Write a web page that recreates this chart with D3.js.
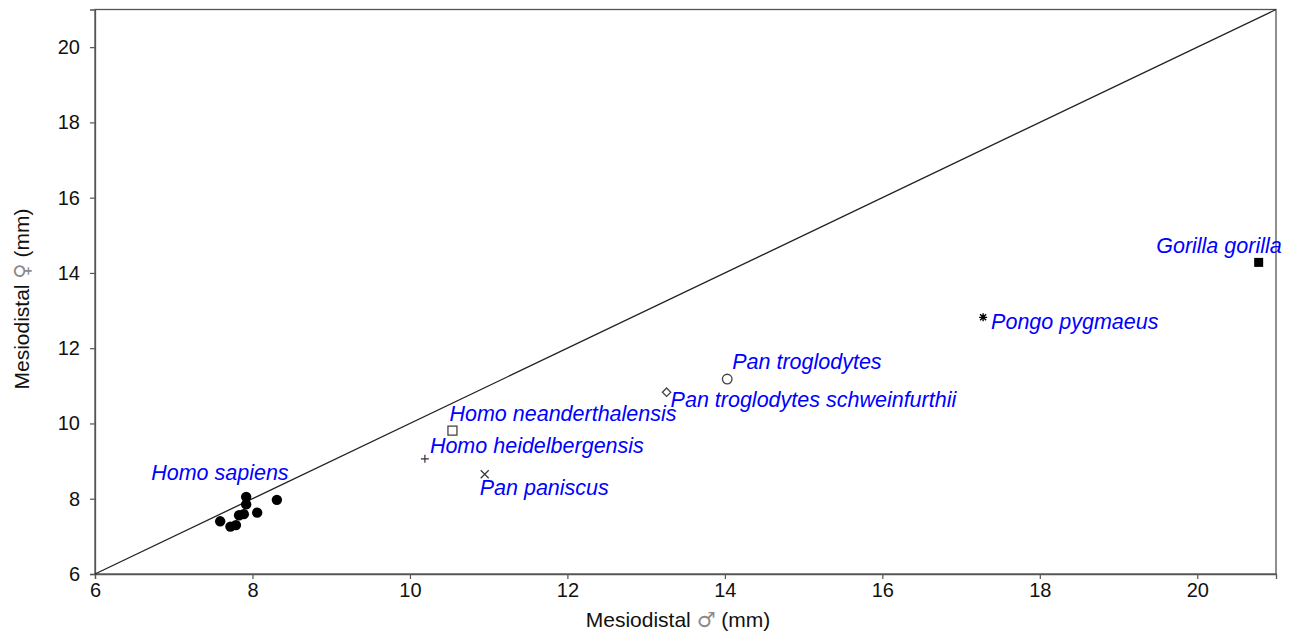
<!DOCTYPE html>
<html>
<head>
<meta charset="utf-8">
<script src="https://cdn.jsdelivr.net/npm/d3@7/dist/d3.min.js"></script>
<style>
  html, body { margin: 0; padding: 0; background: #fff; }
  svg { display: block; font-family: "Liberation Sans", Arial, sans-serif; }
</style>
</head>
<body>
<svg id="chart" width="1291" height="633"></svg>
<script>
// Mean mesiodistal crown diameters, males (x) vs females (y), mm
const sapiensMale   = [7.59, 7.72, 7.79, 7.83, 7.89, 7.92, 7.92, 8.06, 8.31];
const sapiensFemale = [7.40, 7.26, 7.30, 7.56, 7.59, 8.05, 7.85, 7.63, 7.97];

const species      = ["Homo neanderthalensis", "Homo heidelbergensis", "Pan paniscus",
                      "Pan troglodytes schweinfurthii", "Pan troglodytes", "Pongo pygmaeus", "Gorilla gorilla"];
const speciesMale   = [10.54, 10.19, 10.95, 13.26, 14.03, 17.28, 20.78];
const speciesFemale = [9.81, 9.06, 8.65, 10.83, 11.18, 12.82, 14.28];
const speciesSymbol = ["squareOpen", "plus", "cross", "diamond", "circleOpen", "asterisk", "squareFilled"];

const xTicks = [6, 8, 10, 12, 14, 16, 18, 20];
const yTicks = [6, 8, 10, 12, 14, 16, 18, 20];

// Label placement relative to each marker (px)
const labelDx = [-3, 5, -5, 4, 5, 8, 23];
const labelDy = [-10, -6, 21, 15, -10, 12, -9];
const labelAnchor = ["start", "start", "start", "start", "start", "start", "end"];
const sapiensLabel = "Homo sapiens";

const svg = d3.select("#chart");
const plotLeft = 95, plotRight = 1276, plotTop = 9.5, plotBottom = 574;

const x = d3.scaleLinear().domain([6, 21]).range([plotLeft, plotRight]);
const y = d3.scaleLinear().domain([6, 21]).range([plotBottom, plotTop]);

// frame
svg.append("rect")
  .attr("x", plotLeft).attr("y", plotTop)
  .attr("width", plotRight - plotLeft).attr("height", plotBottom - plotTop)
  .attr("fill", "none").attr("stroke", "#555").attr("stroke-width", 1.3);

// axes
const xAxis = svg.append("g").attr("transform", `translate(0,${plotBottom})`)
  .call(d3.axisBottom(x).tickValues(xTicks).tickSize(5).tickPadding(4).tickFormat(d3.format("d")));
const yAxis = svg.append("g").attr("transform", `translate(${plotLeft},0)`)
  .call(d3.axisLeft(y).tickValues(yTicks).tickSize(5).tickPadding(10).tickFormat(d3.format("d")));
[xAxis, yAxis].forEach(g => {
  g.select(".domain").attr("stroke", "#555").attr("stroke-width", 1.3);
  g.selectAll(".tick line").attr("stroke", "#555").attr("stroke-width", 1.2);
  g.selectAll(".tick text").attr("fill", "#111").style("font-size", "20px")
    .style("font-family", "'Liberation Sans', Arial, sans-serif");
});

// axis titles
svg.append("text")
  .attr("x", 678).attr("y", 627)
  .attr("text-anchor", "middle").style("font-size", "21px").attr("fill", "#111")
  .html('Mesiodistal <tspan fill="#8a8a8a" style="font-family:\'DejaVu Sans\'">\u2642</tspan> (mm)');
svg.append("text")
  .attr("transform", `translate(29,299) rotate(-90)`)
  .attr("text-anchor", "middle").style("font-size", "21px").attr("fill", "#111")
  .html('Mesiodistal <tspan fill="#8a8a8a" style="font-family:\'DejaVu Sans\'">\u2640</tspan> (mm)');

// line of equality
svg.append("line")
  .attr("x1", x(6)).attr("y1", y(6)).attr("x2", x(21)).attr("y2", y(21))
  .attr("stroke", "#222").attr("stroke-width", 1.3);

// Homo sapiens samples
svg.append("g").selectAll("circle")
  .data(d3.range(sapiensMale.length))
  .join("circle")
  .attr("cx", i => x(sapiensMale[i]))
  .attr("cy", i => y(sapiensFemale[i]))
  .attr("r", 5.2).attr("fill", "#000");

// species markers
const mk = svg.append("g");
species.forEach((name, i) => {
  const cx = x(speciesMale[i]), cy = y(speciesFemale[i]);
  const g = mk.append("g").attr("transform", `translate(${cx},${cy})`);
  const sym = speciesSymbol[i];
  if (sym === "squareOpen") {
    g.append("rect").attr("x", -4.5).attr("y", -4.5).attr("width", 9).attr("height", 9)
      .attr("fill", "none").attr("stroke", "#444").attr("stroke-width", 1.3);
  } else if (sym === "squareFilled") {
    g.append("rect").attr("x", -4.5).attr("y", -4.5).attr("width", 9).attr("height", 9).attr("fill", "#000");
  } else if (sym === "circleOpen") {
    g.append("circle").attr("r", 4.8).attr("fill", "none").attr("stroke", "#444").attr("stroke-width", 1.3);
  } else if (sym === "diamond") {
    g.append("path").attr("d", "M0,-4.2L4.2,0L0,4.2L-4.2,0Z")
      .attr("fill", "none").attr("stroke", "#444").attr("stroke-width", 1.3);
  } else if (sym === "plus") {
    g.append("path").attr("d", "M-4,0H4M0,-4V4").attr("stroke", "#333").attr("stroke-width", 1.2);
  } else if (sym === "cross") {
    g.append("path").attr("d", "M-4,-4L4,4M-4,4L4,-4").attr("stroke", "#333").attr("stroke-width", 1.2);
  } else if (sym === "asterisk") {
    g.append("path").attr("d", "M-4,0H4M0,-4V4M-3,-3L3,3M-3,3L3,-3").attr("stroke", "#000").attr("stroke-width", 1.4);
  }
});

// species labels
const lab = svg.append("g").style("font-size", "21.5px").style("font-style", "italic").attr("fill", "#0000ff");
species.forEach((name, i) => {
  lab.append("text")
    .attr("x", x(speciesMale[i]) + labelDx[i])
    .attr("y", y(speciesFemale[i]) + labelDy[i])
    .attr("text-anchor", labelAnchor[i])
    .text(name);
});
lab.append("text")
  .attr("x", x(sapiensMale[5]) - 95)
  .attr("y", y(sapiensFemale[5]) - 17)
  .text(sapiensLabel);
</script>
</body>
</html>
